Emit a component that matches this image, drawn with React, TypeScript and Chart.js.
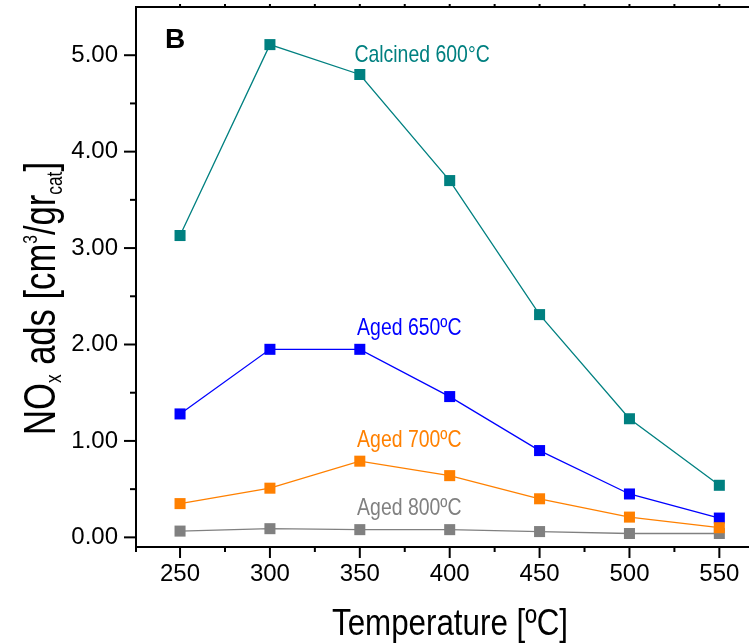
import React, { useEffect, useRef } from 'react';
import { Chart, registerables } from 'chart.js';

Chart.register(...registerables);

// ---- data ----
const temperatures = [250, 300, 350, 400, 450, 500, 550];
const calcined600 = [3.13, 5.11, 4.8, 3.7, 2.31, 1.23, 0.54];
const aged650 = [1.28, 1.95, 1.95, 1.46, 0.9, 0.45, 0.2];
const aged700 = [0.35, 0.51, 0.79, 0.64, 0.4, 0.21, 0.1];
const aged800 = [0.065, 0.09, 0.08, 0.08, 0.06, 0.04, 0.04];

const seriesNames = ['Calcined 600°C', 'Aged 650ºC', 'Aged 700ºC', 'Aged 800ºC'];
const seriesColors = ['#008080', '#0000FF', '#FF8000', '#808080'];
const seriesOrder = [3, 2, 0, 1];

const xTickValues = [250, 300, 350, 400, 450, 500, 550];
const xMinorValues = [275, 325, 375, 425, 475, 525];
const yTickValues = [0, 1, 2, 3, 4, 5];
const yMinorValues = [0.5, 1.5, 2.5, 3.5, 4.5];

// annotation anchors (data coordinates)
const labelAnchorX = [347, 348.5, 348.5, 348.5];
const labelAnchorY = [4.93, 2.1, 0.94, 0.234];

const FONT = '"Liberation Sans", Arial, sans-serif';

const decorPlugin = {
  id: 'decor',
  afterDraw(chart: any) {
    const { ctx, chartArea: ca, scales } = chart;
    const x = scales.x;
    const y = scales.y;
    ctx.save();
    ctx.strokeStyle = '#000';
    ctx.lineWidth = 2;
    const line = (x1: number, y1: number, x2: number, y2: number) => {
      ctx.beginPath();
      ctx.moveTo(x1, y1);
      ctx.lineTo(x2, y2);
      ctx.stroke();
    };
    // top frame
    line(ca.left - 1, ca.top, ca.right, ca.top);
    // left axis extension below the corner
    line(ca.left, ca.bottom, ca.left, ca.bottom + 5);
    // y ticks
    yTickValues.forEach((v) => {
      const p = y.getPixelForValue(v);
      line(ca.left - 12, p, ca.left, p);
    });
    yMinorValues.forEach((v) => {
      const p = y.getPixelForValue(v);
      line(ca.left - 6, p, ca.left, p);
    });
    // x ticks
    xTickValues.forEach((v) => {
      const p = x.getPixelForValue(v);
      line(p, ca.bottom, p, ca.bottom + 11);
      line(p, ca.top, p, ca.top - 3);
    });
    xMinorValues.forEach((v) => {
      const p = x.getPixelForValue(v);
      line(p, ca.bottom, p, ca.bottom + 5);
      line(p, ca.top, p, ca.top - 3);
    });

    // series annotations
    ctx.font = `24px ${FONT}`;
    ctx.textBaseline = 'alphabetic';
    ctx.textAlign = 'left';
    seriesNames.forEach((name, i) => {
      const px = x.getPixelForValue(labelAnchorX[i]);
      const py = y.getPixelForValue(labelAnchorY[i]);
      ctx.save();
      ctx.translate(px, py);
      ctx.scale(0.81, 1);
      ctx.fillStyle = seriesColors[i];
      ctx.fillText(name, 0, 0);
      ctx.restore();
    });

    // panel letter
    ctx.font = `bold 28px ${FONT}`;
    ctx.fillStyle = '#000';
    ctx.fillText('B', 165, 48);

    // x title
    ctx.save();
    ctx.font = `37px ${FONT}`;
    const xt = 'Temperature [ºC]';
    const xw = ctx.measureText(xt).width;
    ctx.translate(332, 635);
    ctx.scale(236 / xw, 1);
    ctx.fillStyle = '#000';
    ctx.fillText(xt, 0, 0);
    ctx.restore();

    // y title with sub/superscripts
    const segs = [
      { t: 'NO', size: 44, dy: 0 },
      { t: 'x', size: 22, dy: 6 },
      { t: ' ads [cm', size: 44, dy: 0 },
      { t: '3', size: 20, dy: -18 },
      { t: '/gr', size: 44, dy: 0 },
      { t: 'cat', size: 22, dy: 7 },
      { t: ']', size: 44, dy: 0 },
    ];
    let total = 0;
    const widths = segs.map((s) => {
      ctx.font = `${s.size}px ${FONT}`;
      const w = ctx.measureText(s.t).width;
      total += w;
      return w;
    });
    ctx.save();
    ctx.translate(55, 435);
    ctx.rotate(-Math.PI / 2);
    ctx.scale(273 / total, 1);
    ctx.fillStyle = '#000';
    let cx = 0;
    segs.forEach((s, i) => {
      ctx.font = `${s.size}px ${FONT}`;
      ctx.fillText(s.t, cx, s.dy);
      cx += widths[i];
    });
    ctx.restore();

    ctx.restore();
  },
};

export default function App() {
  const ref = useRef<HTMLCanvasElement | null>(null);

  useEffect(() => {
    if (!ref.current) return;
    const seriesData = [calcined600, aged650, aged700, aged800];
    const chart = new Chart(ref.current, {
      type: 'line',
      data: {
        datasets: seriesData.map((vals, i) => ({
          label: seriesNames[i],
          data: temperatures.map((t, j) => ({ x: t, y: vals[j] })),
          borderColor: seriesColors[i],
          backgroundColor: seriesColors[i],
          pointBackgroundColor: seriesColors[i],
          pointBorderColor: seriesColors[i],
          pointBorderWidth: 0,
          pointStyle: 'rect',
          pointRadius: 7.8,
          pointHoverRadius: 7.8,
          borderWidth: 1.3,
          tension: 0,
          fill: false,
          order: seriesOrder[i],
        })),
      },
      options: {
        animation: false,
        responsive: false,
        maintainAspectRatio: false,
        devicePixelRatio: 1,
        layout: { autoPadding: false, padding: { top: 7, right: 0, left: 0, bottom: 0 } },
        plugins: {
          legend: { display: false },
          tooltip: { enabled: false },
        },
        scales: {
          x: {
            type: 'linear',
            min: 225.5,
            max: 566.5,
            afterBuildTicks: (s: any) => {
              s.ticks = xTickValues.map((v) => ({ value: v }));
            },
            afterFit: (s: any) => {
              s.height = 97;
              s.paddingLeft = 0;
              s.paddingRight = 0;
              s.paddingTop = 0;
              s.paddingBottom = 0;
            },
            ticks: {
              autoSkip: false,
              maxRotation: 0,
              padding: 13,
              color: '#000',
              font: { family: FONT, size: 24 },
              callback: (v: any) => String(v),
            },
            grid: { display: true, drawOnChartArea: false, drawTicks: false },
            border: { display: true, color: '#000', width: 2 },
          },
          y: {
            type: 'linear',
            min: -0.1,
            max: 5.5,
            afterBuildTicks: (s: any) => {
              s.ticks = yTickValues.map((v) => ({ value: v }));
            },
            afterFit: (s: any) => {
              s.width = 136;
              s.paddingLeft = 0;
              s.paddingRight = 0;
              s.paddingTop = 0;
              s.paddingBottom = 0;
            },
            ticks: {
              autoSkip: false,
              padding: 18,
              color: '#000',
              font: { family: FONT, size: 24 },
              callback: (v: any) => Number(v).toFixed(2),
            },
            grid: { display: true, drawOnChartArea: false, drawTicks: false },
            border: { display: true, color: '#000', width: 2 },
          },
        },
      },
      plugins: [decorPlugin],
    });
    return () => chart.destroy();
  }, []);

  return (
    <div style={{ position: 'fixed', left: 0, top: 0, width: 749, height: 644, background: '#fff' }}>
      <canvas ref={ref} width={749} height={644} style={{ width: 749, height: 644, display: 'block' }} />
    </div>
  );
}
